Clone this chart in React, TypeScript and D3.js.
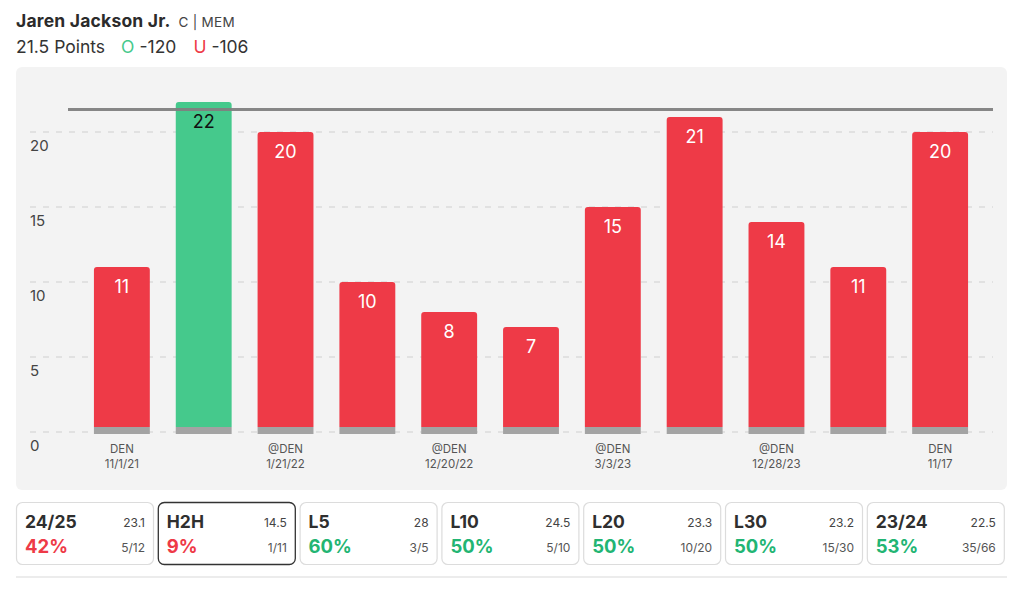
import React from "react";
import * as d3 from "d3";

const games = ["g1", "g2", "g3", "g4", "g5", "g6", "g7", "g8", "g9", "g10", "g11"];
const points = [11, 22, 20, 10, 8, 7, 15, 21, 14, 11, 20];
const opponents = ["DEN", "", "@DEN", "", "@DEN", "", "@DEN", "", "@DEN", "", "DEN"];
const dates = ["11/1/21", "", "1/21/22", "", "12/20/22", "", "3/3/23", "", "12/28/23", "", "11/17"];
const yTicks = [0, 5, 10, 15, 20];
const line = 21.5;

const cardLabels = ["24/25", "H2H", "L5", "L10", "L20", "L30", "23/24"];
const cardAvg = ["23.1", "14.5", "28", "24.5", "23.3", "23.2", "22.5"];
const cardPct = ["42%", "9%", "60%", "50%", "50%", "50%", "53%"];
const cardFrac = ["5/12", "1/11", "3/5", "5/10", "10/20", "15/30", "35/66"];
const cardHit = [false, false, true, true, true, true, true];

const RED = "#ee3a47";
const GREEN = "#45c98c";
const FONT = "Inter, 'Noto Sans', sans-serif";

export default function App() {
  const W = 1024, H = 589;
  const x = d3.scaleBand<string>().domain(games).range([68, 994]).padding(0.317);
  const y = d3.scaleLinear().domain([0, 20]).range([432, 132]);
  const baseTop = 427, baseBot = 434;
  const cardW = 137, cardStep = 141.8, cardX0 = 16, cardY = 502, cardH = 62;

  return (
    <svg width={W} height={H} style={{ position: "absolute", left: 0, top: 0, fontFamily: FONT }}>
      <rect x={0} y={0} width={W} height={H} fill="#fff" />
      <text x={16} y={27} fontSize={17.5} fontWeight={700} fill="#2b2b2b" letterSpacing={0.2}>
        Jaren Jackson Jr.
        <tspan dx={8} fontSize={13.5} fontWeight={400} fill="#444" letterSpacing={0.3}>C | MEM</tspan>
      </text>
      <text x={16} y={53} fontSize={17.5} fill="#333">
        21.5 Points
        <tspan dx={16} fill={GREEN}>O</tspan>
        <tspan dx={5}>-120</tspan>
        <tspan dx={17} fill={RED}>U</tspan>
        <tspan dx={5}>-106</tspan>
      </text>

      <rect x={16} y={67} width={991} height={423} rx={6} fill="#f3f3f3" />

      {yTicks.map((t) => (
        <g key={t}>
          <line x1={30} x2={993} y1={y(t)} y2={y(t)} stroke="#dcdcdc" strokeWidth={1.5} strokeDasharray="6,7" />
          <text x={30} y={y(t) + 19} fontSize={15} fill="#444">{t}</text>
        </g>
      ))}

      {games.map((g, i) => {
        const v = points[i];
        const hit = v > line;
        const bx = x(g)!;
        const bw = x.bandwidth();
        const top = y(v);
        const r = 3;
        const path = `M${bx},${baseTop} L${bx},${top + r} Q${bx},${top} ${bx + r},${top} L${bx + bw - r},${top} Q${bx + bw},${top} ${bx + bw},${top + r} L${bx + bw},${baseTop} Z`;
        return (
          <g key={g}>
            <path d={path} fill={hit ? GREEN : RED} />
            <rect x={bx} y={baseTop} width={bw} height={baseBot - baseTop} fill="#a3a3a3" />
          </g>
        );
      })}

      <line x1={68} x2={993} y1={y(line)} y2={y(line)} stroke="#808080" strokeWidth={3} strokeOpacity={0.95} />

      {games.map((g, i) => {
        const v = points[i];
        const hit = v > line;
        const cx = x(g)! + x.bandwidth() / 2;
        return (
          <g key={g + "l"}>
            <text x={cx} y={y(v) + 26} fontSize={18} textAnchor="middle" fill={hit ? "#111" : "#fff"}>{v}</text>
            <text x={cx} y={453} fontSize={11.5} textAnchor="middle" fill="#555">{opponents[i]}</text>
            <text x={cx} y={468} fontSize={11.5} textAnchor="middle" fill="#555">{dates[i]}</text>
          </g>
        );
      })}

      {cardLabels.map((lab, i) => {
        const cx = cardX0 + i * cardStep;
        const sel = i === 1;
        return (
          <g key={lab}>
            <rect x={cx + 0.5} y={cardY + 0.5} width={cardW} height={cardH} rx={6} fill="#fff" stroke={sel ? "#333" : "#dcdcdc"} strokeWidth={sel ? 1.3 : 1.2} />
            <text x={cx + 9} y={cardY + 26} fontSize={17.5} fontWeight={700} fill="#2f2f2f">{lab}</text>
            <text x={cx + cardW - 8} y={cardY + 25} fontSize={12} textAnchor="end" fill="#444">{cardAvg[i]}</text>
            <text x={cx + 9} y={cardY + 51} fontSize={18.5} fontWeight={700} fill={cardHit[i] ? "#22b573" : RED}>{cardPct[i]}</text>
            <text x={cx + cardW - 8} y={cardY + 50} fontSize={12} textAnchor="end" fill="#555">{cardFrac[i]}</text>
          </g>
        );
      })}

      <line x1={16} x2={1007} y1={577} y2={577} stroke="#ececec" strokeWidth={2} />
    </svg>
  );
}
